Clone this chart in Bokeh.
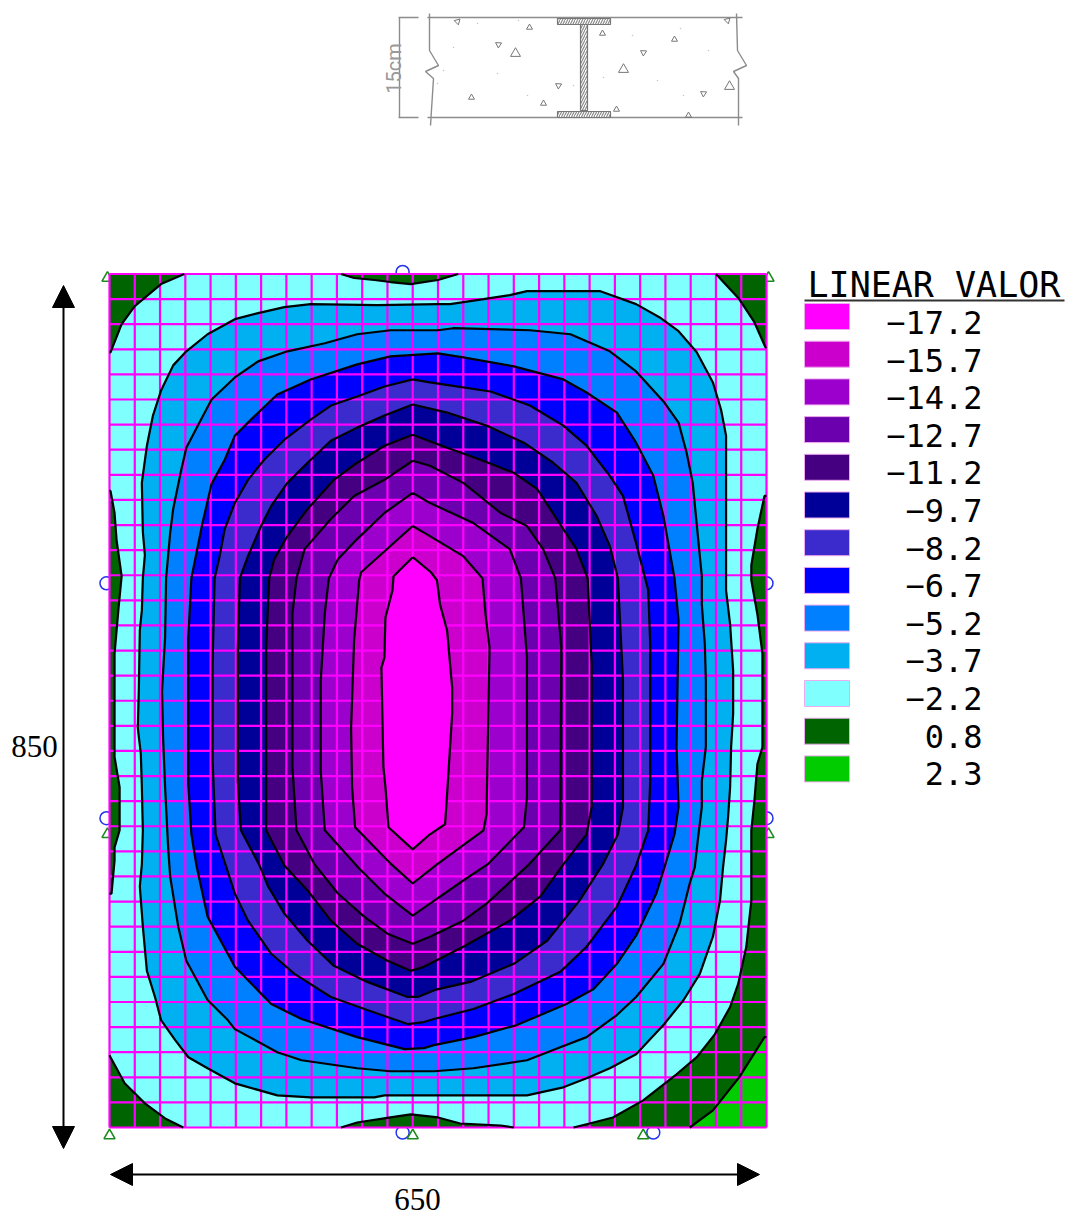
from bokeh.plotting import figure
from bokeh.models import Arrow, NormalHead
from bokeh.core.properties import value
from bokeh.embed import file_html
from bokeh.resources import INLINE
import numpy as np

# Plate dimensions and FE mesh (cm)
plate_w = 650
plate_h = 850
mesh = 25

level_values = [-17.2, -15.7, -14.2, -12.7, -11.2, -9.7, -8.2, -6.7, -5.2, -3.7, -2.2, 0.8, 2.3]
level_labels = ["\u221217.2", "\u221215.7", "\u221214.2", "\u221212.7", "\u221211.2", "\u22129.7", "\u22128.2",
                "\u22126.7", "\u22125.2", "\u22123.7", "\u22122.2", "0.8", "2.3"]
level_colors = ["#FF00FF", "#CC00CC", "#9B00CC", "#6A00AE", "#440080", "#000099", "#3B2BCC",
                "#0000FF", "#0080FF", "#00B0F0", "#80FFFF", "#006400", "#00CC00"]

# Contour outlines: (x cm, y cm from the top edge)
c_37 = [(325,30),(265,31),(199,30),(173,33),(147,39),(124,45),(97,60),(76,77),(63,91),(51,116),(43,141),(37,171),(32,208),(33,257),(35,280),(33,303),
        (32,335),(30,355),(29,415),(28,452),(31,478),(32,511),(33,554),(32,588),(30,610),(33,650),(37,694),(45,720),(51,743),(65,763),(78,780),(97,791),(124,806),(166,818),(199,820),(262,820),(272,818),
        (328,818),(413,818),(449,810),(472,801),(495,791),(521,777),(548,748),(568,723),(584,697),(597,660),(604,624),(607,591),
        (610,564),(612,541),(614,511),(615,471),(617,438),(617,395),(614,349),(610,315),(610,161),(605,135),(597,108),(581,78),(563,57),(544,43),(521,30),(485,17),(413,17),(396,21),(370,25),(337,30)]
c_52 = [(325,56),(278,56),(245,60),(213,69),(176,77),(147,87),(124,103),(101,125),(89,148),(76,173),(71,195),(63,234),(60,258),(56,303),
        (55,362),(52,415),(53,461),(55,511),(58,571),(60,600),(68,650),(76,684),(97,723),(117,743),(124,752),(166,775),(190,783),(245,791),(278,794),
        (321,794),(360,791),(413,783),(446,770),(472,760),(502,738),(521,720),(548,687),(564,647),(574,607),(579,591),
        (582,564),(586,531),(586,505),(590,471),(590,405),(589,369),(586,329),(586,301),(577,208),(571,178),(563,148),(549,128),(521,97),(495,77),(456,60),(416,56),(340,54)]
c_67 = [(325,79),(278,82),(245,90),(199,105),(166,120),(140,145),(124,161),(114,185),(101,209),(92,248),(81,303),
        (78,362),(78,508),(81,558),(86,589),(97,640),(124,690),(160,727),(190,742),(245,760),(292,772),(311,771),
        (321,768),(360,760),(403,748),(452,727),(479,712),(502,687),(521,659),(541,617),(549,591),
        (559,558),(563,531),(561,471),(563,345),(559,303),(548,241),(538,201),(521,168),(502,138),(472,118),(449,105),(400,92),(350,83)]
c_82 = [(300,105),(272,112),(245,122),(219,131),(199,145),(173,165),(153,185),(137,205),(124,228),(114,254),(109,281),(104,303),
        (102,388),(102,485),(105,558),(115,589),(124,617),(137,644),(160,677),(183,697),(219,720),(255,733),(295,747),(311,745),
        (321,742),(360,732),(400,717),(446,695),(472,670),(502,630),(521,589),
        (533,554),(535,505),(535,369),(533,315),(521,268),(508,221),(495,201),(472,171),(449,151),(416,131),(377,117),(317,108)]
c_97 = [(300,130),(272,141),(245,153),(219,166),(196,188),(176,208),(160,231),(150,251),(137,281),(129,303),
        (127,372),(127,505),(130,554),(148,588),(157,610),(173,637),(196,664),(222,689),(255,705),(295,720),(305,720),
        (322,713),(357,705),(400,687),(433,664),(465,624),(488,588),
        (503,558),(508,531),(508,405),(503,303),(495,271),(482,241),(462,208),(439,188),(410,168),(373,151),(334,138)]
c_112 = [(300,160),(272,171),(242,190),(222,205),(196,234),(176,261),(163,284),(158,303),
         (155,372),(155,554),(173,589),(196,614),(219,644),(245,667),(275,684),(298,694),(311,690),
         (317,687),(350,670),(396,644),(426,620),(449,588),
         (472,558),(477,531),(477,388),(473,303),(462,274),(449,254),(423,214),(400,198),(367,185),(334,173)]
c_127 = [(300,186),(272,205),(242,221),(219,244),(193,274),(185,303),
         (181,338),(181,491),(185,554),(203,588),(226,617),(252,640),(275,657),(300,667),
         (317,660),(350,644),(373,627),(414,589),
         (446,554),(447,372),(441,303),(429,274),(413,251),(387,238),(350,208),(317,191)]
c_142 = [(300,218),(272,238),(245,264),(226,284),(217,303),
         (213,338),(209,405),(209,495),(213,554),(247,592),(272,617),(300,639),
         (317,627),(350,604),(374,588),
         (410,551),(413,521),(413,382),(407,303),(396,274),(360,248),(317,228)]
c_157 = [(300,251),(249,297),(247,305),(242,365),(239,452),(240,511),(243,551),(279,588),(300,607),
         (324,588),(370,554),(373,538),(376,372),(372,339),(369,303),(350,281),(317,261)]
c_172 = [(300,282),(281,301),(280,315),(273,342),(272,382),(269,392),(271,491),(273,511),(276,551),(300,573),(317,558),
         (332,548),(334,518),(339,438),(339,412),(334,355),(327,329),(324,305),(318,297)]

# Regions of positive moment along the edges
g_top_left = [(0,0),(74,0),(51,10),(25,32),(12,50),(1,78),(0,78)]
g_top_right = [(600,0),(623,25),(638,48),(649,73),(650,73),(650,0)]
g_top_mid = [(229,0),(242,4),(262,6),(278,8),(298,10),(325,6),(345,0)]
g_left = [(0,216),(1,216),(5,238),(7,265),(12,301),(9,332),(5,378),(5,418),(5,452),(5,481),(10,511),(10,554),(5,571),(5,584),(2,617),(0,617)]
g_right = [(650,221),(648,221),(641,254),(635,290),(635,305),(641,339),(646,378),(646,471),(641,488),(638,525),(635,554),(635,591),(635,624),(630,670),(622,707),(614,730),
           (599,757),(581,780),(561,797),(528,823),(498,840),(475,846),(459,850),(650,850)]
g_bot_mid = [(229,850),(245,845),(278,840),(298,837),(325,840),(347,846),(387,848),(400,850)]
g_bot_left = [(0,778),(1,780),(15,806),(35,826),(55,841),(73,850),(0,850)]
g_lime = [(574,850),(597,833),(623,800),(648,760),(650,760),(650,850)]

# Supports, picture position
support_x = [-2, 0, 300, 528, 652, -2, 652]
support_y = [4, 858, 858, 858, 4, 558, 558]
joint_x = [290, -3, -3, 650, 650, 290, 538]
joint_y = [-2, 308, 542, 308, 542, 855, 855]

# Composite-section sketch, in sketch units (picture pixels)
sec_rail_top = [(427, 17), (742, 17)]
sec_rail_bot = [(427, 117), (742, 117)]
sec_dim = [(398, 17), (418, 17), (399, 17), (399, 117), (398, 117), (418, 117)]
sec_break_l = [(429,13),(429,50),(438,65),(425,71),(433,78),(430,125)]
sec_break_r = [(736,13),(737,50),(746,65),(733,71),(738,78),(738,125)]
sec_flange_top = (557, 610, 18, 24)
sec_flange_bot = (557, 610, 111, 117)
sec_web = (580, 587, 24, 110)
sec_tri_x = [457,529,498,515,471,558,543,602,643,674,623,729,703,727,616,688]
sec_tri_y = [21,27,44,53,97,85,103,33,52,39,69,86,93,20,109,115]
sec_tri_s = [6,6,6,10,6,6,6,6,6,6,10,10,6,6,6,6]
sec_tri_a = [3.4,0,1,0,0,1,0,0,1,0,0,0,1,3.4,0,0]
sec_dot_x = [477,518,497,527,453,443,573,603,632,680,708,683,657,437]
sec_dot_y = [23,20,73,95,47,70,85,77,35,28,50,95,80,83]


def X(px):
    return (np.asarray(px, dtype=float) - 109) * plate_w / 657

def Y(py):
    return (np.asarray(py, dtype=float) - 273.5) * plate_h / 853.5

def xy(pts):
    return [p_[0] for p_ in pts], [p_[1] for p_ in pts]

def on_edge(pt):
    return pt[0] in (0, plate_w) or pt[1] in (0, plate_h)

def inner_curve(pts):
    """The part of a region's outline that is a contour, not the plate's edge."""
    n_ = len(pts)
    keep = [not on_edge(pts[i]) or not on_edge(pts[i - 1]) or not on_edge(pts[(i + 1) % n_]) for i in range(n_)]
    return xy([pt for pt, k in zip(pts, keep) if k])

W, H = 1066, 1216
p = figure(width=W, height=H, x_range=(float(X(0)), float(X(W))), y_range=(float(Y(H)), float(Y(0))),
           x_axis_type=None, y_axis_type=None, toolbar_location=None, output_backend="svg",
           min_border=0, outline_line_color=None, background_fill_color="white", border_fill_color="white")
p.grid.visible = False

# --- section sketch
GREY = "#8c8c8c"
for pts in (sec_rail_top, sec_rail_bot, sec_dim, sec_break_l, sec_break_r):
    a, b = xy(pts)
    p.line(X(a), Y(b), line_color=GREY, line_width=1.4)
for (l, r, t, b) in (sec_flange_top, sec_flange_bot, sec_web):
    p.quad(left=[float(X(l))], right=[float(X(r))], top=[float(Y(t))], bottom=[float(Y(b))],
           fill_color="white", line_color="#777777", line_width=1.2,
           hatch_pattern="right_diagonal_line", hatch_color="#8a8a8a", hatch_scale=5, hatch_weight=1.2)
p.scatter(X(sec_tri_x), Y(sec_tri_y), size=sec_tri_s, angle=sec_tri_a, marker="triangle", fill_color=None,
          line_color="#777777", line_width=1)
p.scatter(X(sec_dot_x), Y(sec_dot_y), size=1.5, marker="circle", fill_color="#c4c4c4", line_color=None)
p.text([float(X(393))], [float(Y(68))], text=["15cm"], angle=np.pi / 2, text_align="center", text_baseline="middle",
       text_font=value("Roboto"), text_font_size="20px", text_color="#999999")

# --- supports, drawn under the plate
p.scatter(joint_x, joint_y, size=13, marker="circle", fill_color=None, line_color="#2233EE", line_width=1.5)
p.scatter(support_x, support_y, size=11, marker="triangle", fill_color="white", line_color="#1E8A1E", line_width=1.6)

# --- contour fills, outermost first
p.quad(left=[0], right=[plate_w], top=[0], bottom=[plate_h], fill_color=level_colors[10], line_color=None)

greens = [g_top_left, g_top_right, g_top_mid, g_left, g_right, g_bot_mid, g_bot_left]
gx, gy = zip(*[xy(g) for g in greens])
p.patches(list(gx), list(gy), fill_color=level_colors[11], line_color=None)
lx, ly = xy(g_lime)
p.patch(lx, ly, fill_color=level_colors[12], line_color=None)

contours = [c_37, c_52, c_67, c_82, c_97, c_112, c_127, c_142, c_157, c_172]
fills = [level_colors[9], level_colors[8], level_colors[7], level_colors[6], level_colors[5],
         level_colors[4], level_colors[3], level_colors[2], level_colors[1], level_colors[0]]
for c, col in zip(contours, fills):
    a, b = xy(c)
    p.patch(a, b, fill_color=col, line_color=None)

# --- mesh over the fills
grid_x = np.arange(0, plate_w + 1, mesh)
grid_y = np.arange(0, plate_h + 1, mesh)
p.segment(grid_x, 0, grid_x, plate_h, line_color="#FF00FF", line_width=2.2)
p.segment(0, grid_y, plate_w, grid_y, line_color="#FF00FF", line_width=2.2)

# --- contour lines over the mesh
for c in contours:
    a, b = xy(c + c[:1])
    p.line(a, b, line_color="black", line_width=2.2)
for g in greens + [g_lime]:
    a, b = inner_curve(g)
    p.line(a, b, line_color="black", line_width=2.2)

# --- dimension arrows and labels
head = dict(size=22, fill_color="black", line_color="black")
p.add_layout(Arrow(start=NormalHead(**head), end=NormalHead(**head), x_start=float(X(63)), x_end=float(X(63)),
                   y_start=float(Y(285)), y_end=float(Y(1148)), line_color="black", line_width=2))
p.add_layout(Arrow(start=NormalHead(**head), end=NormalHead(**head), x_start=float(X(110)), x_end=float(X(759)),
                   y_start=float(Y(1174)), y_end=float(Y(1174)), line_color="black", line_width=2))
serif = dict(text_font=value("Liberation Serif"), text_font_size="31px", text_color="black",
             text_align="center", text_baseline="middle")
p.text([float(X(34))], [float(Y(746))], text=["850"], **serif)
p.text([float(X(417))], [float(Y(1199))], text=["650"], **serif)

# --- legend
n = len(level_values)
row_top = 303 + 37.7 * np.arange(n)
p.quad(left=float(X(804)), right=float(X(849)), top=Y(row_top), bottom=Y(row_top + 26),
       fill_color=level_colors, line_color="#eeaaee", line_width=1)
p.text(np.full(n, float(X(982))), Y(322 + 37.6 * np.arange(n)), text=level_labels, text_align="right",
       text_baseline="middle", text_font=value("DejaVu Sans Mono"), text_font_size="32px", text_color="black")
p.text([float(X(807))], [float(Y(284))], text=["LINEAR VALOR"], text_align="left", text_baseline="middle",
       text_font=value("DejaVu Sans Mono"), text_font_size="35px", text_color="black")
p.line(X([804, 1064]), Y([300, 300]), line_color="#333333", line_width=2)

open("out.html", "w").write(file_html(p, INLINE))
